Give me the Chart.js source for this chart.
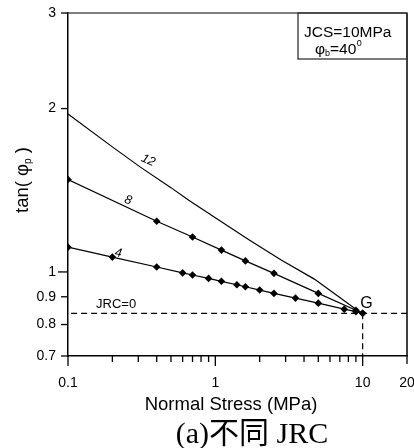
<!DOCTYPE html>
<html>
<head>
<meta charset="utf-8">
<script src="https://cdn.jsdelivr.net/npm/chart.js@4.4.1/dist/chart.umd.min.js"></script>
<style>
  html, body { margin: 0; padding: 0; background: #fff; }
  #wrap { width: 414px; height: 448px; position: relative; }
</style>
</head>
<body>
<div id="wrap"><canvas id="chart" width="414" height="448"></canvas></div>
<script>
// values (normal stress in MPa, tan(phi_p))
const stressJrc4 = [0.1, 0.2, 0.4, 0.6, 0.7, 0.9, 1.1, 1.4, 1.6, 2.0, 2.5, 3.5, 5.0, 7.5, 9.0, 10];
const tanJrc4 = [1.111, 1.065, 1.021, 0.996, 0.987, 0.973, 0.961, 0.947, 0.939, 0.926, 0.913, 0.895, 0.876, 0.854, 0.845, 0.839];
const stressJrc8 = [0.1, 0.4, 0.7, 1.1, 1.6, 2.5, 5.0, 9.0, 10];
const tanJrc8 = [1.48, 1.24, 1.16, 1.097, 1.048, 0.994, 0.913, 0.85, 0.839];
const stressJrc12 = [0.1, 0.2, 0.31, 0.5, 0.66, 1.0, 1.7, 2.8, 4.7, 9.1, 10];
const tanJrc12 = [1.955, 1.70, 1.56, 1.43, 1.355, 1.258, 1.145, 1.052, 0.970, 0.852, 0.839];
const stressJrc0 = [0.105, 20];
const tanJrc0 = [0.839, 0.839];
const stressG = [10, 10];
const tanG = [0.839, 0.7];

const xTicks = [0.1, 0.2, 0.3, 0.4, 0.5, 0.6, 0.7, 0.8, 0.9, 1, 2, 3, 4, 5, 6, 7, 8, 9, 10, 20];
const xTickLabels = { 0.1: "0.1", 1: "1", 10: "10", 20: "20" };
const yTicks = [0.7, 0.8, 0.9, 1, 2, 3];
const yTickLabels = { 0.7: "0.7", 0.8: "0.8", 0.9: "0.9", 1: "1", 2: "2", 3: "3" };

const FONT = "'Liberation Sans', Arial, sans-serif";

function pts(xs, ys) {
  return xs.map((x, i) => ({ x: x, y: ys[i] }));
}

function lineSet(xs, ys, markers) {
  return {
    data: pts(xs, ys),
    borderColor: "#000",
    borderWidth: 1.2,
    backgroundColor: "#000",
    pointStyle: "rectRot",
    pointRadius: markers ? 3.8 : 0,
    pointBorderWidth: 0,
    tension: 0,
    fill: false,
  };
}

const overlay = {
  id: "overlay",
  afterDraw(chart) {
    const c = chart.ctx;
    const a = chart.chartArea;
    const xs = chart.scales.x;
    const ys = chart.scales.y;
    c.save();

    // top + right frame
    c.strokeStyle = "#555";
    c.lineWidth = 1.5;
    c.beginPath();
    c.moveTo(a.left, a.top);
    c.lineTo(a.right, a.top);
    c.stroke();
    c.strokeStyle = "#000";
    c.beginPath();
    c.moveTo(a.right, a.top);
    c.lineTo(a.right, a.bottom);
    c.stroke();

    // tick marks
    c.lineWidth = 1.3;
    xTicks.forEach((v) => {
      const px = xs.getPixelForValue(v);
      const len = [0.1, 1, 10].includes(v) ? 10 : v === 20 ? 8 : 6;
      c.beginPath();
      c.moveTo(px, a.bottom);
      c.lineTo(px, a.bottom + len);
      c.stroke();
    });
    yTicks.forEach((v) => {
      const py = ys.getPixelForValue(v);
      const len = v === 1 ? 10 : 7;
      c.beginPath();
      c.moveTo(a.left - len, py);
      c.lineTo(a.left, py);
      c.stroke();
    });

    // legend box
    c.lineWidth = 1.3;
    c.strokeStyle = "#333";
    c.strokeRect(298, a.top, a.right - 298, 46);
    c.fillStyle = "#000";
    c.textBaseline = "alphabetic";
    c.textAlign = "left";
    c.font = "15.5px " + FONT;
    c.fillText("JCS=10MPa", 304, 37);
    let tx = 315;
    c.fillText("\u03c6", tx, 54);
    tx += c.measureText("\u03c6").width;
    c.font = "9px " + FONT;
    c.fillText("b", tx, 56);
    tx += c.measureText("b").width;
    c.font = "15.5px " + FONT;
    c.fillText("=40", tx, 54);
    tx += c.measureText("=40").width;
    c.font = "9px " + FONT;
    c.fillText("0", tx + 0.5, 46);

    // curve labels
    function rotText(t, v, w, ang, size) {
      c.save();
      c.translate(xs.getPixelForValue(v), ys.getPixelForValue(w));
      c.rotate(ang * Math.PI / 180);
      c.font = "italic " + size + "px " + FONT;
      c.textAlign = "center";
      c.textBaseline = "middle";
      c.fillText(t, 0, 0);
      c.restore();
    }
    rotText("12", 0.35, 1.605, 24, 12.5);
    rotText("8", 0.256, 1.355, 18, 12.5);
    rotText("4", 0.219, 1.083, 10, 12.5);

    c.font = "13px " + FONT;
    c.textAlign = "center";
    c.textBaseline = "middle";
    c.fillText("JRC=0", xs.getPixelForValue(0.212), ys.getPixelForValue(0.870));
    c.font = "16px " + FONT;
    c.fillText("G", xs.getPixelForValue(10.6), ys.getPixelForValue(0.873));

    // axis titles
    c.font = "18.5px " + FONT;
    c.textBaseline = "alphabetic";
    c.fillText("Normal Stress (MPa)", 231, 410);

    c.save();
    c.translate(28, 180);
    c.rotate(-Math.PI / 2);
    c.textAlign = "left";
    const p1 = "tan( \u03c6";
    const p3 = " )";
    c.font = "18.5px " + FONT;
    const w1 = c.measureText(p1).width;
    const w3 = c.measureText(p3).width;
    c.font = "10px " + FONT;
    const w2 = c.measureText("p").width;
    let sx = -(w1 + w2 + w3) / 2;
    c.font = "18.5px " + FONT;
    c.fillText(p1, sx, 0);
    c.font = "10px " + FONT;
    c.fillText("p", sx + w1, 3);
    c.font = "18.5px " + FONT;
    c.fillText(p3, sx + w1 + w2, 0);
    c.restore();

    // caption
    c.textAlign = "center";
    c.font = "30px 'Liberation Serif', 'Noto Sans CJK SC', serif";
    c.fillText("(a)\u4e0d\u540c JRC", 252, 443);

    c.restore();
  },
};

new Chart(document.getElementById("chart"), {
  type: "line",
  data: {
    datasets: [
      lineSet(stressJrc12, tanJrc12, false),
      lineSet(stressJrc8, tanJrc8, true),
      lineSet(stressJrc4, tanJrc4, true),
      Object.assign(lineSet(stressJrc0, tanJrc0, false), { borderDash: [6, 4] }),
      Object.assign(lineSet(stressG, tanG, false), { borderDash: [6, 4] }),
    ],
  },
  options: {
    responsive: false,
    animation: false,
    events: [],
    layout: { padding: { top: 13, right: 7, left: 0, bottom: 0 } },
    plugins: { legend: { display: false }, tooltip: { enabled: false } },
    scales: {
      x: {
        type: "logarithmic",
        min: 0.1,
        max: 20,
        afterBuildTicks(s) {
          s.ticks = xTicks.map((v) => ({ value: v }));
        },
        afterFit(s) {
          s.height = 92;
          s.paddingLeft = 0;
          s.paddingRight = 0;
        },
        grid: { display: false, drawTicks: false },
        border: { display: true, color: "#000", width: 1.5 },
        ticks: {
          autoSkip: false,
          maxRotation: 0,
          padding: 19,
          color: "#000",
          font: { family: FONT, size: 14 },
          callback: (v) => xTickLabels[v] || "",
        },
      },
      y: {
        type: "logarithmic",
        min: 0.7,
        max: 3,
        afterBuildTicks(s) {
          s.ticks = yTicks.map((v) => ({ value: v }));
        },
        afterFit(s) {
          s.width = 68;
          s.paddingTop = 0;
          s.paddingBottom = 0;
        },
        grid: { display: false, drawTicks: false },
        border: { display: true, color: "#000", width: 1.5 },
        ticks: {
          autoSkip: false,
          padding: 12,
          color: "#000",
          font: { family: FONT, size: 14 },
          callback: (v) => yTickLabels[v] || "",
        },
      },
    },
  },
  plugins: [overlay],
});
</script>
</body>
</html>
